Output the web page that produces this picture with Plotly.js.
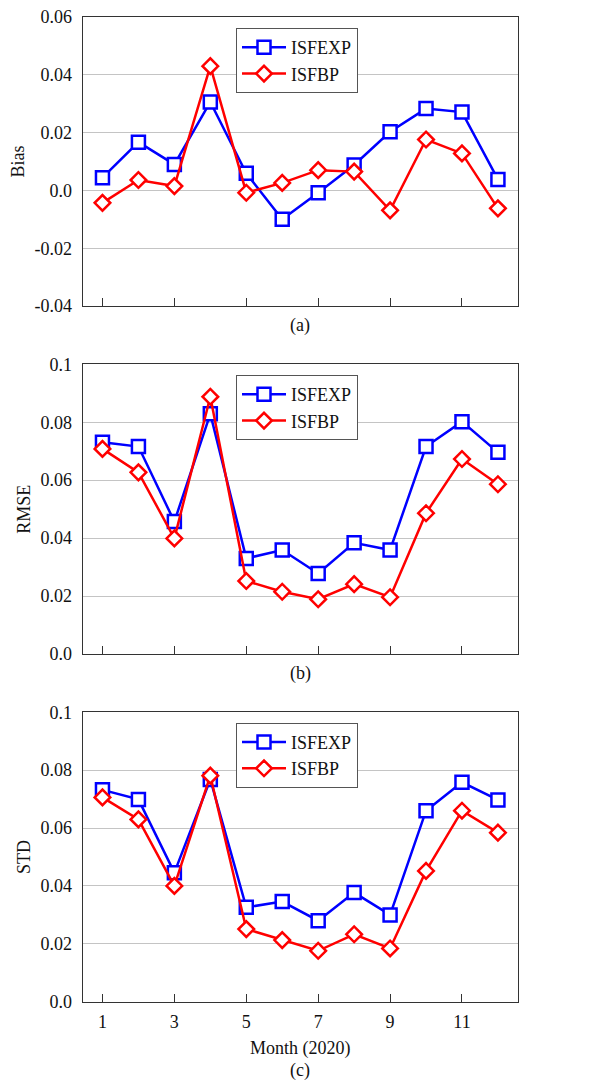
<!DOCTYPE html>
<html>
<head>
<meta charset="utf-8">
<script src="https://cdn.plot.ly/plotly-3.0.1.min.js"></script>
<style>html,body{margin:0;padding:0;background:#fff;}#chart{width:608px;height:1083px;}</style>
</head>
<body>
<div id="chart"></div>
<script>
const months = [1,2,3,4,5,6,7,8,9,10,11,12];
const seriesNames = ["ISFEXP", "ISFBP"];

const biasISFEXP = [0.0044, 0.0167, 0.0090, 0.0306, 0.0059, -0.0100, -0.0008, 0.0088, 0.0203, 0.0283, 0.0271, 0.0038];
const biasISFBP  = [-0.0043, 0.0036, 0.0015, 0.0430, -0.0008, 0.0026, 0.0070, 0.0065, -0.0069, 0.0176, 0.0128, -0.0062];

const rmseISFEXP = [0.0731, 0.0716, 0.0457, 0.0829, 0.0330, 0.0359, 0.0278, 0.0384, 0.0359, 0.0716, 0.0802, 0.0696];
const rmseISFBP  = [0.0708, 0.0627, 0.0399, 0.0888, 0.0252, 0.0215, 0.0189, 0.0241, 0.0196, 0.0486, 0.0673, 0.0586];

const stdISFEXP = [0.0732, 0.0699, 0.0446, 0.0768, 0.0326, 0.0346, 0.0280, 0.0377, 0.0300, 0.0660, 0.0758, 0.0697];
const stdISFBP  = [0.0706, 0.0630, 0.0400, 0.0781, 0.0251, 0.0213, 0.0176, 0.0233, 0.0184, 0.0452, 0.0660, 0.0584];

const xTickVals = [1,3,5,7,9,11];
const xTickText = ["1","3","5","7","9","11"];
const biasTickVals = [-0.04, -0.02, 0, 0.02, 0.04, 0.06];
const biasTickText = ["-0.04", "-0.02", "0.0", "0.02", "0.04", "0.06"];
const errTickVals = [0, 0.02, 0.04, 0.06, 0.08, 0.1];
const errTickText = ["0.0", "0.02", "0.04", "0.06", "0.08", "0.1"];
const panelTitles = ["Bias", "RMSE", "STD"];
const panelLabels = ["(a)", "(b)", "(c)"];
const xTitle = "Month (2020)";

const FONT = "Liberation Serif, Times New Roman, serif";
const BLUE = "#0000ff", RED = "#ff0000";

const panels = [
  {exp: biasISFEXP, bp: biasISFBP, ax: "", leg: "legend"},
  {exp: rmseISFEXP, bp: rmseISFBP, ax: "2", leg: "legend2"},
  {exp: stdISFEXP, bp: stdISFBP, ax: "3", leg: "legend3"}
];

const traces = [];
panels.forEach(p => {
  traces.push({
    x: months, y: p.exp, name: seriesNames[0], type: "scatter", mode: "lines+markers",
    xaxis: "x" + p.ax, yaxis: "y" + p.ax, legend: p.leg,
    line: {color: BLUE, width: 2.5},
    marker: {symbol: "square", size: 13, color: "#fff", line: {color: BLUE, width: 2.5}}
  });
  traces.push({
    x: months, y: p.bp, name: seriesNames[1], type: "scatter", mode: "lines+markers",
    xaxis: "x" + p.ax, yaxis: "y" + p.ax, legend: p.leg,
    line: {color: RED, width: 2.5},
    marker: {symbol: "diamond", size: 12, color: "#fff", line: {color: RED, width: 2.5}}
  });
});

const W = 608, H = 1083;
const xDom = [82.7 / W, 517.7 / W];
const yDoms = [[1 - 306 / H, 1 - 17 / H], [1 - 654 / H, 1 - 364.3 / H], [1 - 1001.7 / H, 1 - 712.3 / H]];
const legTops = [28, 375, 722.7];
const labelY = [325, 673, 1070];

function xaxis(i) {
  return {
    domain: xDom, range: [0.45, 12.55], anchor: "y" + (i ? i + 1 : ""),
    showline: true, mirror: true, linecolor: "#333", linewidth: 1,
    showgrid: false, zeroline: false,
    ticks: "inside", ticklen: 8, tickwidth: 1, tickcolor: "#333",
    tickvals: xTickVals, ticktext: xTickText, showticklabels: i === 2,
    ticklabelstandoff: 4,
    tickfont: {family: FONT, size: 18, color: "#111"},
    title: i === 2 ? {text: xTitle, font: {family: FONT, size: 18, color: "#111"}, standoff: 10} : {text: ""}
  };
}
function yaxis(i) {
  const isBias = i === 0;
  return {
    domain: yDoms[i], anchor: "x" + (i ? i + 1 : ""),
    range: isBias ? [-0.04, 0.06] : [0, 0.1],
    showline: true, mirror: true, linecolor: "#333", linewidth: 1,
    showgrid: true, gridcolor: "#c4c4c4", gridwidth: 1, zeroline: false,
    ticks: "", tickvals: isBias ? biasTickVals : errTickVals, ticktext: isBias ? biasTickText : errTickText,
    ticklabelstandoff: 6,
    tickfont: {family: FONT, size: 18, color: "#111"},
    title: {text: panelTitles[i], font: {family: FONT, size: 18, color: "#111"}, standoff: 5}
  };
}
function legend(i) {
  return {
    x: 236 / W, y: 1 - legTops[i] / H, xanchor: "left", yanchor: "top",
    bgcolor: "#fff", bordercolor: "#555", borderwidth: 1,
    font: {family: FONT, size: 18, color: "#111"}, itemwidth: 44
  };
}

const layout = {
  width: W, height: H, margin: {l: 0, r: 0, t: 0, b: 0},
  paper_bgcolor: "#fff", plot_bgcolor: "#fff", showlegend: true,
  font: {family: FONT, size: 18, color: "#111"},
  xaxis: xaxis(0), xaxis2: xaxis(1), xaxis3: xaxis(2),
  yaxis: yaxis(0), yaxis2: yaxis(1), yaxis3: yaxis(2),
  legend: legend(0), legend2: legend(1), legend3: legend(2),
  annotations: panelLabels.map((t, i) => ({
    text: t, xref: "paper", yref: "paper", x: (xDom[0] + xDom[1]) / 2, y: 1 - labelY[i] / H,
    xanchor: "center", yanchor: "middle", showarrow: false,
    font: {family: FONT, size: 18, color: "#111"}
  }))
};

Plotly.newPlot("chart", traces, layout, {displayModeBar: false, staticPlot: true});
</script>
</body>
</html>
